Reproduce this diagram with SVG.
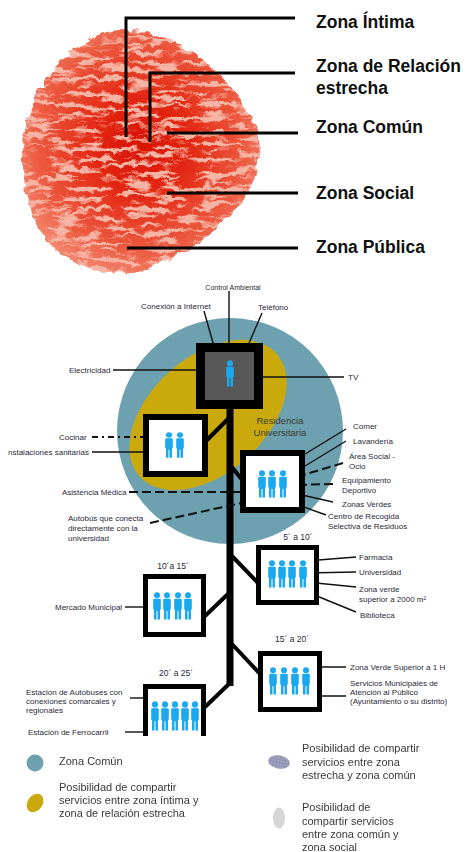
<svg xmlns="http://www.w3.org/2000/svg" width="467" height="852" viewBox="0 0 467 852">
  <style>
    .zt { font-family: "Liberation Sans", Arial, sans-serif; font-weight: bold; font-size: 17.5px; fill: #111; }
    .lb { font-family: "Liberation Sans", Arial, sans-serif; font-size: 8px; fill: #2a2a36; }
    .sm { font-family: "Liberation Sans", Arial, sans-serif; font-size: 7px; fill: #2a2a36; }
    .tm { font-family: "Liberation Sans", Arial, sans-serif; font-size: 8.5px; fill: #2a2a36; text-anchor: middle; }
    .res { font-family: "Liberation Sans", Arial, sans-serif; font-size: 9.5px; fill: #3b3b30; text-anchor: middle; }
    .lg { font-family: "Liberation Sans", Arial, sans-serif; font-size: 11px; fill: #3a3a3a; }
    .lead { fill: none; stroke: #000; stroke-width: 3; }
    .box { stroke: #000; }
    .branch { stroke: #000; stroke-width: 4; fill: none; }
    .arr { stroke: #111; stroke-width: 1.4; fill: none; marker-end: url(#ah); }
    .dash { stroke: #111; stroke-width: 2; fill: none; stroke-dasharray: 9 4; marker-end: url(#ah); }
    .dashdot { stroke: #111; stroke-width: 2; fill: none; stroke-dasharray: 6 4 2 4; marker-end: url(#ah); }
    .person { fill: #1aa9ef; }
  </style>
  <defs>
    <marker id="ah" markerUnits="userSpaceOnUse" markerWidth="7" markerHeight="6" refX="6" refY="3" orient="auto">
      <path d="M0,0 L6.5,3 L0,6 z" fill="#111"/>
    </marker>
    <symbol id="p" viewBox="0 0 10 28" preserveAspectRatio="none">
      <circle cx="5" cy="3.3" r="3"/>
      <path d="M1.2,7.8 Q1.2,6.7 2.3,6.7 H7.7 Q8.8,6.7 8.8,7.8 V17.5 H8 V27.6 H5.5 V19 H4.5 V27.6 H2 V17.5 H1.2 Z"/>
    </symbol>
    <radialGradient id="blobFill" cx="0.5" cy="0.47" r="0.55">
      <stop offset="0" stop-color="#d81204"/>
      <stop offset="0.4" stop-color="#e32a14"/>
      <stop offset="0.8" stop-color="#ec5a40"/>
      <stop offset="1" stop-color="#f2826a"/>
    </radialGradient>
    <filter id="ridges" filterUnits="userSpaceOnUse" x="0" y="15" width="280" height="270">
      <feTurbulence type="fractalNoise" baseFrequency="0.04 0.2" numOctaves="2" seed="11" result="noise"/>
      <feColorMatrix in="noise" type="matrix" values="0 0 0 0 0  0 0 0 0 0  0 0 0 0 0  7 0 0 0 -2.6" result="mask"/>
      <feComposite in="SourceGraphic" in2="mask" operator="in" result="streaks"/>
      <feTurbulence type="turbulence" baseFrequency="0.07" numOctaves="2" seed="3" result="warp"/>
      <feDisplacementMap in="streaks" in2="warp" scale="8" xChannelSelector="R" yChannelSelector="G"/>
    </filter>
    <filter id="rough" filterUnits="userSpaceOnUse" x="0" y="15" width="280" height="270">
      <feTurbulence type="turbulence" baseFrequency="0.07" numOctaves="2" seed="3" result="warp"/>
      <feDisplacementMap in="SourceGraphic" in2="warp" scale="8" xChannelSelector="R" yChannelSelector="G"/>
    </filter>
    <pattern id="hatch" patternUnits="userSpaceOnUse" width="3" height="3">
      <rect width="3" height="3" fill="#a3a3c2"/>
      <path d="M0,0 V3 M0,0 H3" stroke="#7a7a9e" stroke-width="0.8"/>
    </pattern>
    <filter id="soft" x="-5%" y="-5%" width="110%" height="110%">
      <feGaussianBlur stdDeviation="0.35"/>
    </filter>
    <clipPath id="cut">
      <rect x="0" y="270" width="467" height="466"/>
    </clipPath>
  </defs>

  <!-- Fingerprint of personal zones -->
  <g id="fingerprint">
    <path id="blobShape" filter="url(#rough)" fill="#f6b4a4"
          d="M100,32 C125,26 160,28 190,50 C215,68 245,100 256,130 C262,160 250,190 228,214 C205,238 170,262 130,270 C95,272 62,262 42,235 C24,210 18,170 22,135 C28,95 55,50 100,32 Z"/>
    <path filter="url(#ridges)" fill="url(#blobFill)"
          d="M100,32 C125,26 160,28 190,50 C215,68 245,100 256,130 C262,160 250,190 228,214 C205,238 170,262 130,270 C95,272 62,262 42,235 C24,210 18,170 22,135 C28,95 55,50 100,32 Z"/>
  </g>

  <g id="zone-leaders">
    <path class="lead" d="M126,137 V18 H295"/>
    <path class="lead" d="M150,142 V73 H295"/>
    <path class="lead" d="M167,133 H298"/>
    <path class="lead" d="M167,193 H298"/>
    <path class="lead" d="M127,248 H298"/>
  </g>
  <g id="zone-labels">
    <text class="zt" x="316" y="28">Zona Íntima</text>
    <text class="zt" x="316" y="72">Zona de Relación</text>
    <text class="zt" x="316" y="94">estrecha</text>
    <text class="zt" x="316" y="133">Zona Común</text>
    <text class="zt" x="316" y="199">Zona Social</text>
    <text class="zt" x="316" y="253">Zona Pública</text>
  </g>

  <!-- Service areas -->
  <g id="zona-comun">
    <circle cx="230" cy="431" r="113" fill="#6ea1b0"/>
  </g>
  <g id="zona-estrecha">
    <ellipse cx="208" cy="415" rx="92" ry="58" transform="rotate(-42 208 415)" fill="#c9a90c"/>
  </g>
  <g id="residencia-label">
    <text class="res" x="280" y="424">Residencia</text>
    <text class="res" x="280" y="436">Universitaria</text>
  </g>

  <!-- Trunk and branches -->
  <g id="connectors">
    <g clip-path="url(#cut)">
      <line x1="230" y1="405" x2="230" y2="686" stroke="#000" stroke-width="7"/>
      <line class="branch" x1="229" y1="418" x2="206" y2="441"/>
      <line class="branch" x1="231" y1="466" x2="243" y2="481"/>
      <line class="branch" x1="231" y1="555" x2="258" y2="583"/>
      <line class="branch" x1="229" y1="593" x2="205" y2="616"/>
      <line class="branch" x1="231" y1="643" x2="261" y2="675"/>
      <line class="branch" x1="230" y1="683" x2="205" y2="707"/>
    </g>

    <!-- arrows into the private room -->
    <line class="arr" x1="229" y1="291" x2="229" y2="359"/>
    <line class="arr" x1="204" y1="311" x2="217" y2="357"/>
    <line class="arr" x1="262" y1="313" x2="243" y2="357"/>
    <line class="arr" x1="113" y1="370" x2="219" y2="370"/>
    <line class="arr" x1="344" y1="377" x2="246" y2="377"/>

    <!-- shared room -->
    <line class="dashdot" x1="92" y1="437" x2="160" y2="437"/>
    <line class="arr" x1="92" y1="452" x2="160" y2="452"/>

    <!-- common services -->
    <line class="dash" x1="129" y1="492" x2="255" y2="492"/>
    <line class="dash" x1="150" y1="523" x2="255" y2="500"/>
    <line class="arr" x1="346" y1="429" x2="292" y2="462"/>
    <line class="arr" x1="346" y1="441" x2="292" y2="474"/>
    <line class="dash" x1="343" y1="463" x2="293" y2="478"/>
    <line class="dash" x1="333" y1="484" x2="293" y2="485"/>
    <line class="arr" x1="333" y1="502" x2="293" y2="493"/>
    <line class="arr" x1="326" y1="515" x2="293" y2="503"/>

    <!-- 5 to 10 min -->
    <line class="arr" x1="356" y1="557" x2="306" y2="561"/>
    <line class="arr" x1="356" y1="572" x2="306" y2="573"/>
    <line class="arr" x1="356" y1="587" x2="306" y2="582"/>
    <line class="arr" x1="356" y1="612" x2="307" y2="592"/>

    <!-- 10 to 15 min -->
    <line class="arr" x1="125" y1="607" x2="156" y2="607"/>

    <!-- 15 to 20 min -->
    <line class="arr" x1="346" y1="667" x2="312" y2="667"/>
    <line class="arr" x1="346" y1="696" x2="312" y2="696"/>

    <!-- 20 to 25 min -->
    <line class="arr" x1="130" y1="698" x2="154" y2="698"/>
    <line class="arr" x1="125" y1="732" x2="154" y2="732"/>
  </g>

  <!-- Rooms and distance bands -->
  <g id="room-intima">
    <rect class="box" x="200.5" y="347.5" width="58" height="57" fill="#585858" stroke-width="9"/>
    <use href="#p" class="person" x="225" y="360" width="10" height="27"/>
  </g>
  <g id="room-estrecha">
    <rect class="box" x="146" y="417" width="59" height="57" fill="#fff" stroke-width="6"/>
    <use href="#p" class="person" x="164" y="432" width="10" height="26"/>
    <use href="#p" class="person" x="175" y="432" width="10" height="26"/>
  </g>
  <g id="room-comun">
    <rect class="box" x="243" y="453" width="59" height="57" fill="#fff" stroke-width="6"/>
    <use href="#p" class="person" x="257" y="470" width="10" height="28"/>
    <use href="#p" class="person" x="267" y="470" width="10" height="28"/>
    <use href="#p" class="person" x="278" y="470" width="10" height="28"/>
  </g>
  <g id="band-5-10">
    <text class="tm" x="298" y="540">5´ a 10´</text>
    <rect class="box" x="258.5" y="547.5" width="58" height="55" fill="#fff" stroke-width="5"/>
    <use href="#p" class="person" x="267" y="560" width="10" height="28"/>
    <use href="#p" class="person" x="277" y="560" width="10" height="28"/>
    <use href="#p" class="person" x="287" y="560" width="10" height="28"/>
    <use href="#p" class="person" x="298" y="560" width="10" height="28"/>
  </g>
  <g id="band-10-15">
    <text class="tm" x="173" y="569">10´a 15´</text>
    <rect class="box" x="145.5" y="576.5" width="58" height="58" fill="#fff" stroke-width="5"/>
    <use href="#p" class="person" x="152" y="592" width="10" height="28"/>
    <use href="#p" class="person" x="162" y="592" width="10" height="28"/>
    <use href="#p" class="person" x="173" y="592" width="10" height="28"/>
    <use href="#p" class="person" x="183" y="592" width="10" height="28"/>
  </g>
  <g id="band-15-20">
    <text class="tm" x="292" y="642">15´ a 20´</text>
    <rect class="box" x="260.5" y="653.5" width="59" height="56" fill="#fff" stroke-width="5"/>
    <use href="#p" class="person" x="268" y="667" width="10" height="28"/>
    <use href="#p" class="person" x="279" y="667" width="10" height="28"/>
    <use href="#p" class="person" x="290" y="667" width="10" height="28"/>
    <use href="#p" class="person" x="301" y="667" width="10" height="28"/>
  </g>
  <g id="band-20-25">
    <text class="tm" x="176" y="676">20´ a 25´</text>
    <g clip-path="url(#cut)">
      <rect class="box" x="145.5" y="686.5" width="58" height="60" fill="#fff" stroke-width="5"/>
      <use href="#p" class="person" x="150" y="701" width="10" height="30"/>
      <use href="#p" class="person" x="160" y="701" width="10" height="30"/>
      <use href="#p" class="person" x="170" y="701" width="10" height="30"/>
      <use href="#p" class="person" x="180" y="701" width="10" height="30"/>
      <use href="#p" class="person" x="190" y="701" width="10" height="30"/>
    </g>
  </g>

  <!-- Service labels -->
  <g id="service-labels">
    <text class="sm" x="233" y="290" text-anchor="middle">Control Ambiental</text>
    <text class="lb" x="141" y="309">Conexión a Internet</text>
    <text class="lb" x="258" y="310">Teléfono</text>
    <text class="lb" x="69" y="373">Electricidad</text>
    <text class="lb" x="348" y="380">TV</text>

    <text class="lb" x="59" y="440">Cocinar</text>
    <text class="lb" x="8" y="455">nstalaciones sanitarias</text>
    <text class="lb" x="62" y="495">Asistencia Médica</text>
    <text class="lb" x="68" y="521">Autobús que conecta</text>
    <text class="lb" x="68" y="531">directamente con la</text>
    <text class="lb" x="68" y="541">universidad</text>

    <text class="lb" x="353" y="429">Comer</text>
    <text class="lb" x="353" y="444">Lavandería</text>
    <text class="lb" x="349" y="459">Área Social -</text>
    <text class="lb" x="349" y="469">Ocio</text>
    <text class="lb" x="342" y="483">Equipamiento</text>
    <text class="lb" x="342" y="493">Deportivo</text>
    <text class="lb" x="342" y="507">Zonas Verdes</text>
    <text class="lb" x="328" y="519">Centro de Recogida</text>
    <text class="lb" x="328" y="529">Selectiva de Residuos</text>

    <text class="lb" x="359" y="560">Farmacia</text>
    <text class="lb" x="359" y="575">Universidad</text>
    <text class="lb" x="359" y="592">Zona verde</text>
    <text class="lb" x="359" y="602">superior a 2000 m²</text>
    <text class="lb" x="360" y="618">Biblioteca</text>

    <text class="lb" x="55" y="610">Mercado Municipal</text>

    <text class="lb" x="350" y="670">Zona Verde Superior a 1 H</text>
    <text class="lb" x="350" y="686">Servicios Municipales de</text>
    <text class="lb" x="350" y="695">Atención al Público</text>
    <text class="lb" x="350" y="704">(Ayuntamiento o su distrito)</text>

    <text class="lb" x="26" y="695">Estación de Autobuses con</text>
    <text class="lb" x="26" y="704">conexiones comarcales y</text>
    <text class="lb" x="26" y="713">regionales</text>
    <text class="lb" x="28" y="735">Estación de Ferrocarril</text>
  </g>

  <!-- Legend -->
  <g id="legend" filter="url(#soft)">
    <circle cx="35" cy="763" r="8.5" fill="#6ea1b0"/>
    <text class="lg" x="59" y="765">Zona Común</text>
    <ellipse cx="35" cy="803" rx="7.5" ry="10" transform="rotate(35 35 803)" fill="#c9a90c"/>
    <text class="lg" x="59" y="791">Posibilidad de compartir</text>
    <text class="lg" x="59" y="804">servicios entre zona íntima y</text>
    <text class="lg" x="59" y="817">zona de relación estrecha</text>
    <ellipse cx="279" cy="762" rx="11" ry="6.5" transform="rotate(10 279 762)" fill="url(#hatch)"/>
    <text class="lg" x="302" y="752">Posibilidad de compartir</text>
    <text class="lg" x="302" y="766">servicios entre  zona</text>
    <text class="lg" x="302" y="779">estrecha y zona común</text>
    <ellipse cx="279" cy="818" rx="6" ry="10.5" fill="#d6d6d6"/>
    <text class="lg" x="302" y="811">Posibilidad de</text>
    <text class="lg" x="302" y="825">compartir servicios</text>
    <text class="lg" x="302" y="838">entre zona común y</text>
    <text class="lg" x="302" y="851">zona social</text>
  </g>
</svg>
